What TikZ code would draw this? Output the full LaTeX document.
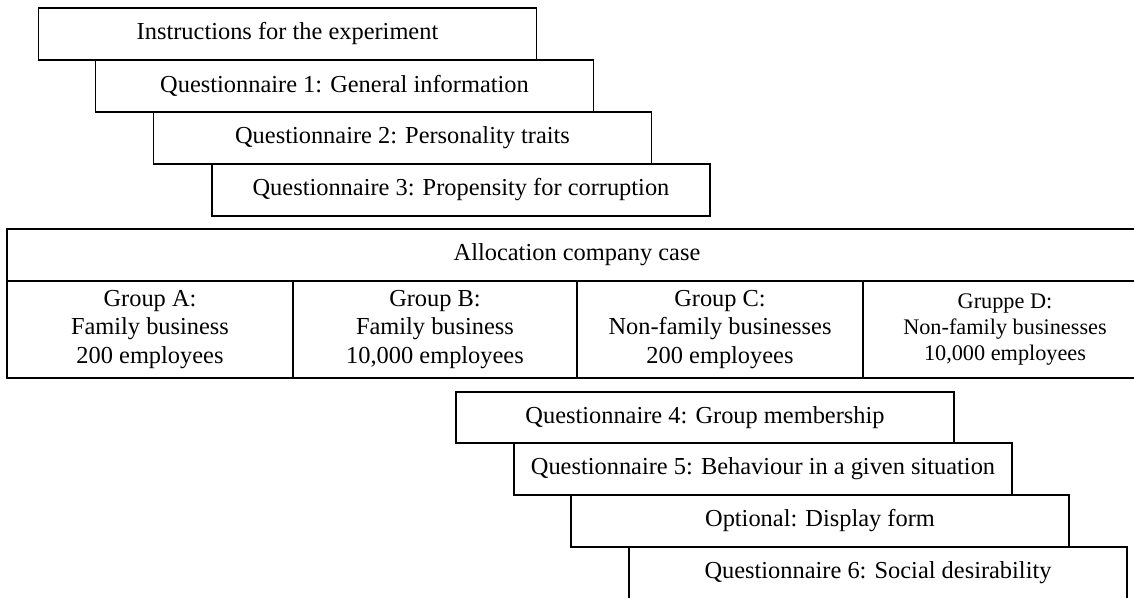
\documentclass[tikz,border=0pt]{standalone}
\usepackage{fontspec}
\setmainfont{Liberation Serif}
\begin{document}
\begin{tikzpicture}[x=0.75pt,y=-0.75pt,
  stepbox/.style={draw,line width=1.4pt,rectangle,inner sep=0pt,minimum width=373.5pt,minimum height=39pt,font=\fontsize{18.3}{22}\selectfont,fill=white},
  cellbox/.style={draw,line width=1.4pt,rectangle,inner sep=0pt,minimum height=72.75pt,align=center,font=\fontsize{18.3}{21.4}\selectfont},
  headbox/.style={draw,line width=1.4pt,rectangle,inner sep=0pt,minimum height=39pt,minimum width=855pt,font=\fontsize{18.3}{22}\selectfont}]
\clip (0,0) rectangle (1134,597);
\fill[white] (0,0) rectangle (1134,597);
% top staircase
\node[stepbox] (b1) at (287.5,34) {Instructions for the experiment};
\node[stepbox] (b2) at (344.5,86) {Questionnaire 1: General information};
\node[stepbox] (b3) at (402.5,138) {Questionnaire 2: Personality traits};
\node[stepbox] (b4) at (461,190) {Questionnaire 3: Propensity for corruption};
% table
\node[headbox] (head) at (577,255) {Allocation company case};
\node[cellbox,minimum width=214.5pt] (ga) at (150,329.5) {Group A:\\Family business\\200 employees};
\node[cellbox,minimum width=213pt] (gb) at (435,329.5) {Group B:\\Family business\\10,000 employees};
\node[cellbox,minimum width=214.5pt] (gc) at (720,329.5) {Group C:\\Non-family businesses\\200 employees};
\node[cellbox,minimum width=213pt,font=\fontsize{16.7}{19.5}\selectfont] (gd) at (1005,329.5) {Gruppe D:\\Non-family businesses\\10,000 employees};
% bottom staircase
\node[stepbox,minimum height=38.25pt] (q4) at (705,417.5) {Questionnaire 4: Group membership};
\node[stepbox] (q5) at (763,469) {Questionnaire 5: Behaviour in a given situation};
\node[stepbox] (op) at (820,521) {Optional: Display form};
\node[stepbox] (q6) at (878,573) {Questionnaire 6: Social desirability};
\end{tikzpicture}
\end{document}
